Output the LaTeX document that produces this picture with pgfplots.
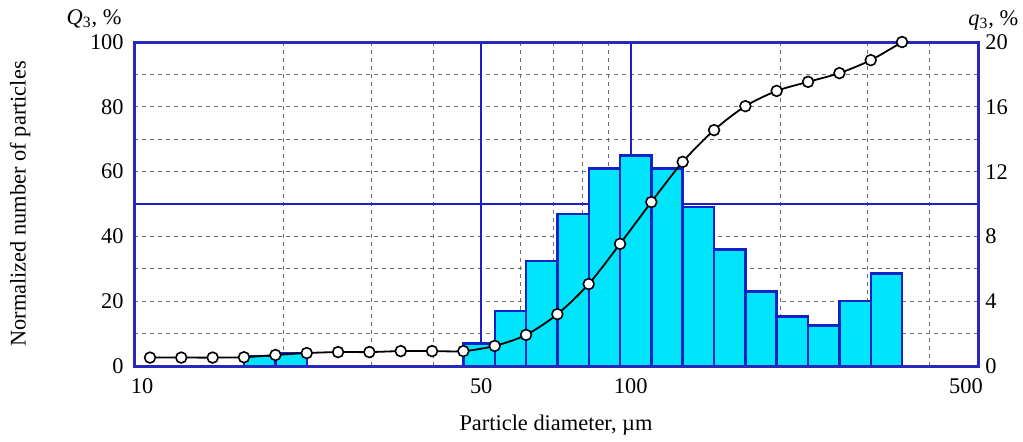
\documentclass[border=0pt]{standalone}
\usepackage{fontspec}
\setmainfont{Liberation Serif}
\usepackage{pgfplots}
\pgfplotsset{compat=1.18}

\definecolor{frameblue}{RGB}{40,40,190}
\definecolor{baredge}{RGB}{15,35,200}
\definecolor{barfill}{RGB}{0,228,252}
\definecolor{refblue}{RGB}{30,30,200}
\definecolor{gridgray}{RGB}{110,110,110}

\begin{document}
\begin{tikzpicture}
\path[use as bounding box] (-67pt,-37.5pt) rectangle (444.5pt,183pt);

% histogram q3 (right axis), grid and reference lines
\begin{axis}[name=qaxis,
  at={(0,0)}, anchor=south west,
  width=422pt, height=162pt, scale only axis,
  xmode=log, xmin=10, xmax=500,
  ymin=0, ymax=20,
  major tick length=0pt, minor tick length=0pt,
  axis line style={frameblue, line width=1.5pt},
  tick label style={font=\fontsize{11.2}{13}\selectfont},
  /pgf/number format/assume math mode=true,
  grid style={gridgray, dash pattern=on 2pt off 2pt, line width=0.5pt},
  minor grid style={gridgray, dash pattern=on 2pt off 2pt, line width=0.5pt},
  ytick={0,4,8,12,16,20}, minor ytick={2,6,10,14,18},
  yticklabel pos=right,
  yticklabel style={anchor=west, inner sep=0pt, xshift=3.5pt},
  xtick={10,50,100,500}, xticklabels={},
  minor xtick={20,30,40,60,70,80,90,200,300,400},
  ymajorgrids, yminorgrids, xminorgrids,
]
\addplot[refblue, line width=1pt] coordinates {(50,0) (50,20)};
\addplot[refblue, line width=1pt] coordinates {(100,0) (100,20)};
\addplot[refblue, line width=1pt] coordinates {(10,10) (500,10)};

\addplot[ybar interval, fill=barfill, draw=baredge, line width=1.2pt]
  coordinates {(16.65,0.6) (19.26,0.8) (22.27,0)};
\addplot[ybar interval, fill=barfill, draw=baredge, line width=1.2pt]
  coordinates {(46.03,1.4) (53.22,3.4) (61.54,6.5) (71.16,9.4) (82.28,12.2)
               (95.14,13.0) (110.0,12.2) (127.2,9.8) (147.1,7.2) (170.1,4.6)
               (196.7,3.05) (227.4,2.5) (263.0,4.0) (304.1,5.7) (351.6,0)};
\end{axis}

% cumulative Q3 (left axis)
\begin{axis}[name=Qaxis,
  at={(0,0)}, anchor=south west,
  width=422pt, height=162pt, scale only axis,
  xmode=log, xmin=10, xmax=500,
  ymin=0, ymax=100,
  major tick length=0pt, minor tick length=0pt,
  axis line style={frameblue, line width=1.5pt},
  tick label style={font=\fontsize{11.2}{13}\selectfont},
  label style={font=\fontsize{11.2}{13}\selectfont},
  /pgf/number format/assume math mode=true,
  ytick={0,20,40,60,80,100},
  yticklabel style={anchor=east, inner sep=0pt, xshift=-5pt},
  xtick={10,50,100,500},
  xticklabels={\hspace*{8pt}10, 50, 100, 500\hspace*{12pt}},
  xticklabel style={anchor=base, inner sep=0pt, yshift=-13.5pt},
  xlabel={Particle diameter, µm},
  xlabel style={at={(axis description cs:0.5,0)}, anchor=base, inner sep=0pt, yshift=-32pt},
  ylabel={Normalized number of particles},
  ylabel style={at={(axis description cs:0,0.5)}, anchor=center, inner sep=0pt, yshift=57pt},
]
\addplot[black, line width=0.9pt, smooth, mark=*, mark size=2.7pt,
         mark options={fill=white, draw=black, line width=0.8pt, solid}]
  coordinates {(10.77,2.6) (12.45,2.6) (14.40,2.6) (16.65,2.7) (19.26,3.4)
               (22.27,4.0) (25.75,4.3) (29.77,4.3) (34.43,4.6) (39.81,4.6)
               (46.03,4.6) (53.22,6.2) (61.54,9.6) (71.16,16.0) (82.28,25.3)
               (95.14,37.7) (110.0,50.6) (127.2,63.0) (147.1,72.8) (170.1,80.2)
               (196.7,84.9) (227.4,87.7) (263.0,90.4) (304.1,94.4) (351.6,100)};
\end{axis}

\node[anchor=base east, inner sep=0pt, xshift=-6pt, yshift=9pt,
      font=\fontsize{11.2}{13}\selectfont] at (Qaxis.north west)
      {\textit{Q}\textsubscript{3}, \%};
\node[anchor=base west, inner sep=0pt, xshift=-5pt, yshift=8.5pt,
      font=\fontsize{11.2}{13}\selectfont] at (qaxis.north east)
      {\textit{q}\textsubscript{3}, \%};
\end{tikzpicture}
\end{document}
